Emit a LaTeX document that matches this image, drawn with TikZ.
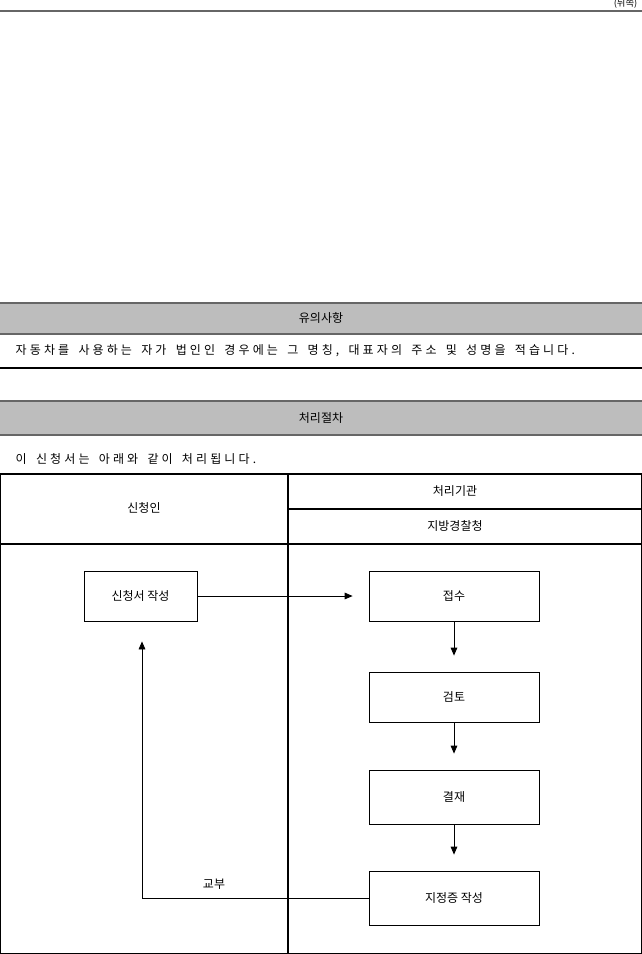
\documentclass[tikz,border=0pt]{standalone}
\usepackage{fontspec}
\newfontfamily\kr{Noto Sans CJK KR}
\newfontfamily\krs[LetterSpace=26,WordSpace=1.6]{Noto Sans CJK KR}
\usetikzlibrary{arrows.meta}
\begin{document}
\begin{tikzpicture}[x=0.75pt,y=-0.75pt,font=\kr\fontsize{9}{10}\selectfont,
 box/.style={draw,line width=0.6pt,minimum width=0pt,inner sep=0pt},
 arr/.style={-{Triangle[length=6pt,width=5pt]},line width=0.6pt},
 sp/.style={font=\krs\fontsize{9}{10}\selectfont,anchor=west}]
\useasboundingbox (0,0) rectangle (642,954);
\node[font=\kr\fontsize{7}{8}\selectfont,anchor=east] (back) at (642,4) {(뒤쪽)};
\draw[line width=2pt,black!60] (0,11) -- (642,11);
% 유의사항
\fill[gray!52] (0,304) rectangle (642,334);
\draw[line width=2pt,black!60] (0,303) -- (642,303);
\draw[line width=0.8pt,black!60] (0,334) -- (642,334);
\node (h1) at (321,318) {유의사항};
\node[sp] (t1) at (11,351) {자동차를 사용하는 자가 법인인 경우에는 그 명칭, 대표자의 주소 및 성명을 적습니다.};
\draw[line width=0.8pt] (0,368) -- (642,368);
% 처리절차
\fill[gray!52] (0,402) rectangle (642,435);
\draw[line width=2pt,black!60] (0,401) -- (642,401);
\draw[line width=0.8pt,black!60] (0,435) -- (642,435);
\node (h2) at (321,418) {처리절차};
\node[sp] (t2) at (11,459) {이 신청서는 아래와 같이 처리됩니다.};
% table
\draw[line width=0.8pt] (0.5,474) rectangle (641.5,953.5);
\draw[line width=0.8pt] (288,474) -- (288,954);
\draw[line width=0.8pt] (288,509) -- (642,509);
\draw[line width=0.8pt] (0,544) -- (642,544);
\node (c1) at (144,508) {신청인};
\node (c2) at (455,491) {처리기관};
\node (c3) at (455,526) {지방경찰청};
% boxes
\node[box,minimum width=84.75pt,minimum height=37.5pt] (b0) at (140.5,596) {신청서 작성};
\node[box,minimum width=127.5pt,minimum height=37.5pt] (b1) at (454,596) {접수};
\node[box,minimum width=127.5pt,minimum height=37.5pt] (b2) at (454,697) {검토};
\node[box,minimum width=127.5pt,minimum height=40.5pt] (b3) at (454,797) {결재};
\node[box,minimum width=127.5pt,minimum height=40.5pt] (b4) at (454,898) {지정증 작성};
\draw[arr,shorten >=12pt] (b0.east) -- (b1.west);
\draw[arr,shorten >=12pt] (b1.south) -- (b2.north);
\draw[arr,shorten >=12pt] (b2.south) -- (b3.north);
\draw[arr,shorten >=12pt] (b3.south) -- (b4.north);
\coordinate (k) at (142,898);
\draw[arr,shorten >=15pt] (b4.west) -- (k) -- (k |- b0.south);
\node (gb) at (214,884) {교부};
\end{tikzpicture}
\end{document}
